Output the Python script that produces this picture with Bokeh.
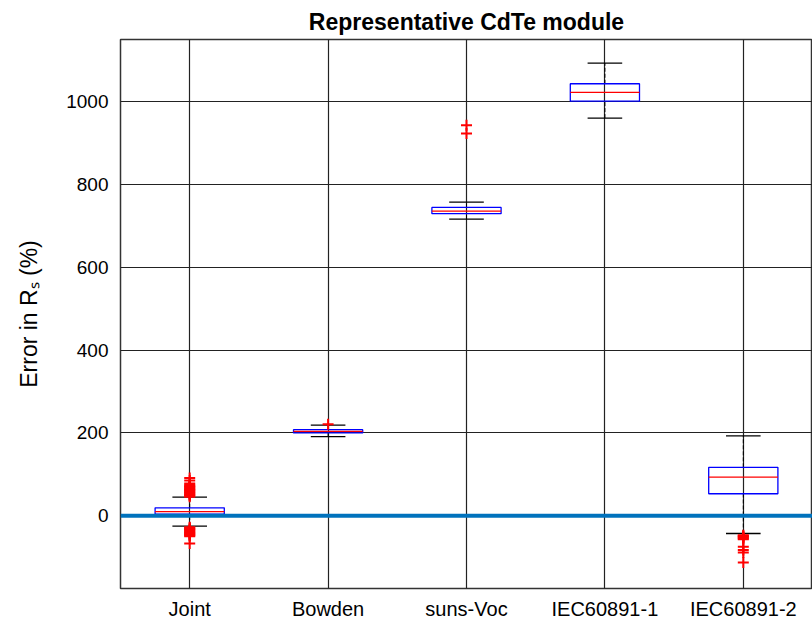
import numpy as np
from bokeh.plotting import figure
from bokeh.models import Range1d, FixedTicker, Span
from bokeh.embed import file_html
from bokeh.resources import INLINE

# ---------------- data ----------------
categories = ["Joint", "Bowden", "suns-Voc", "IEC60891-1", "IEC60891-2"]
q1 = [4, 200, 730, 1002, 53]
median = [10, 204, 736, 1023, 93]
q3 = [19, 208, 745, 1044, 117]
whisker_low = [-25, 191, 717, 961, -43]
whisker_high = [45, 219, 758, 1094, 193]

outliers_joint = [46, 48, 50, 52, 54, 56, 58, 60, 62, 64, 66, 68, 70, 72, 75, 78, 85, 91,
                  -28, -30, -32, -34, -36, -38, -40, -42, -44, -46, -48, -50, -67]
outliers_bowden = [221]
outliers_sunsvoc = [924, 944]
outliers_iec1 = []
outliers_iec2 = [-47, -49, -51, -53, -55, -57, -75, -83, -89, -113]
outliers = [outliers_joint, outliers_bowden, outliers_sunsvoc, outliers_iec1, outliers_iec2]

y_ticks = [0, 200, 400, 600, 800, 1000]
y_label = "Error in R\u209b (%)"

# ---------------- figure ----------------
FONT = "Liberation Sans"
p = figure(width=812, height=622, output_backend="svg", toolbar_location=None,
           x_range=Range1d(0.5, 5.5), y_range=Range1d(-176, 1151),
           min_border_left=120, min_border_right=0, min_border_top=39, min_border_bottom=33)
p.title.text = "Representative CdTe module"
p.title.align = "center"
p.title.text_font = FONT
p.title.text_font_style = "bold"
p.title.text_font_size = "23px"
p.title.text_color = "black"
p.title.standoff = 10

pos = np.arange(1, len(categories) + 1)

# grid
p.xgrid.ticker = FixedTicker(ticks=list(pos))
p.ygrid.ticker = FixedTicker(ticks=y_ticks)
for g in (p.xgrid, p.ygrid):
    g.grid_line_color = "#222222"
    g.grid_line_width = 1.2
    g.grid_line_alpha = 1.0

p.outline_line_color = "#333333"
p.outline_line_width = 1.5
p.background_fill_color = "white"
p.border_fill_color = "white"

# axes
p.xaxis.ticker = FixedTicker(ticks=list(pos))
p.xaxis.major_label_overrides = {int(i): c for i, c in zip(pos, categories)}
p.yaxis.ticker = FixedTicker(ticks=y_ticks)
for ax in (p.xaxis, p.yaxis):
    ax.axis_line_color = None
    ax.major_tick_line_color = None
    ax.minor_tick_line_color = None
    ax.major_tick_out = 0
    ax.major_tick_in = 0
    ax.minor_tick_out = 0
    ax.major_label_text_font = FONT
    ax.major_label_text_color = "black"
p.xaxis.major_label_text_font_size = "20px"
p.yaxis.major_label_text_font_size = "19px"
p.xaxis.major_label_standoff = 9
p.yaxis.major_label_standoff = 12

p.yaxis.axis_label = y_label
p.yaxis.axis_label_text_font = FONT
p.yaxis.axis_label_text_font_style = "normal"
p.yaxis.axis_label_text_font_size = "23px"
p.yaxis.axis_label_text_color = "black"
p.yaxis.axis_label_standoff = 21

# whiskers (dashed, along the category line)
p.segment(x0=pos, y0=q3, x1=pos, y1=whisker_high, line_color="black", line_dash="4 2", line_width=1)
p.segment(x0=pos, y0=whisker_low, x1=pos, y1=q1, line_color="black", line_dash="4 2", line_width=1)
# caps
cap = 0.125
p.segment(x0=pos - cap, y0=whisker_high, x1=pos + cap, y1=whisker_high, line_color="black", line_width=1.3)
p.segment(x0=pos - cap, y0=whisker_low, x1=pos + cap, y1=whisker_low, line_color="black", line_width=1.3)
# boxes
p.quad(left=pos - 0.25, right=pos + 0.25, bottom=q1, top=q3,
       fill_color=None, line_color="#0000FF", line_width=1.3)
# medians
p.segment(x0=pos - 0.25, y0=median, x1=pos + 0.25, y1=median, line_color="#FF0000", line_width=1.3)

# outliers
ox = np.concatenate([np.full(len(o), i) for i, o in zip(pos, outliers)])
oy = np.concatenate([np.array(o, dtype=float) for o in outliers])
p.scatter(x=ox, y=oy, marker="cross", size=11, line_color="#FF0000", line_width=2)

# zero line
p.add_layout(Span(location=0, dimension="width", line_color="#0072BD", line_width=4, level="overlay"))

open("out.html", "w").write(file_html(p, INLINE))
